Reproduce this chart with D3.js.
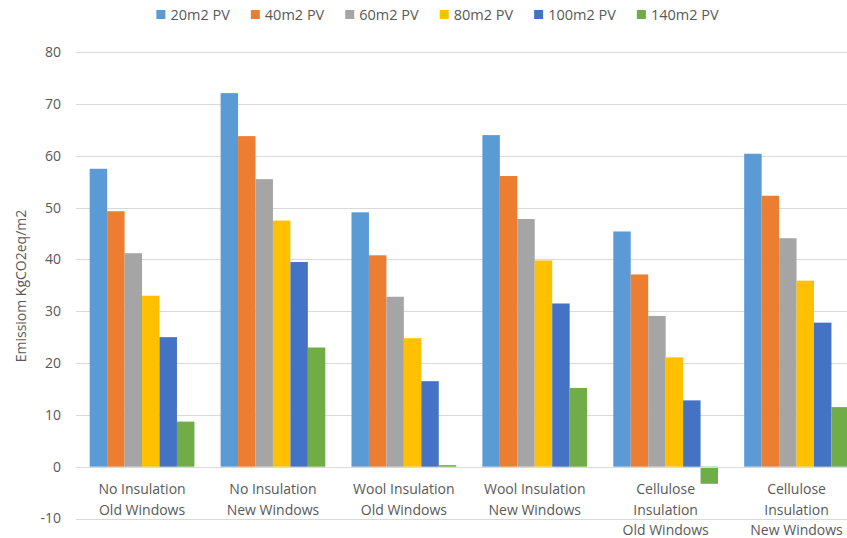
<!DOCTYPE html>
<html>
<head>
<meta charset="utf-8">
<script src="https://cdn.jsdelivr.net/npm/d3@7"></script>
<style>
  html, body { margin: 0; padding: 0; background: #fff; overflow: hidden; }
  svg { display: block; font-family: "Open Sans", sans-serif; }
</style>
</head>
<body>
<svg id="chart" width="847" height="538"></svg>
<script>
// ---- data ----
const categories = ["NI_OW", "NI_NW", "WI_OW", "WI_NW", "CI_OW", "CI_NW"];
const categoryLabels = [
  ["No Insulation", "Old Windows"],
  ["No Insulation", "New Windows"],
  ["Wool Insulation", "Old Windows"],
  ["Wool Insulation", "New Windows"],
  ["Cellulose", "Insulation", "Old Windows"],
  ["Cellulose", "Insulation", "New Windows"]
];
const seriesNames = ["20m2 PV", "40m2 PV", "60m2 PV", "80m2 PV", "100m2 PV", "140m2 PV"];
const pv20  = [57.5, 72.1, 49.1, 64.0, 45.4, 60.4];
const pv40  = [49.3, 63.8, 40.8, 56.1, 37.1, 52.3];
const pv60  = [41.2, 55.5, 32.8, 47.8, 29.1, 44.1];
const pv80  = [33.0, 47.5, 24.8, 39.8, 21.1, 35.9];
const pv100 = [25.0, 39.5, 16.5, 31.5, 12.8, 27.8];
const pv140 = [8.7, 23.0, 0.3, 15.2, -3.3, 11.5];
const yTicks = [-10, 0, 10, 20, 30, 40, 50, 60, 70, 80];
const colors = ["#5B9BD5", "#ED7D31", "#A5A5A5", "#FFC000", "#4472C4", "#70AD47"];
const yTitle = "Emissiom KgCO2eq/m2";

const seriesValues = [pv20, pv40, pv60, pv80, pv100, pv140];

// ---- layout ----
const svg = d3.select("#chart");
const plotLeft = 76.6, plotRight = 862, plotTop = 52.2, plotBottom = 518.5;
const textColor = "#595959";

const x = d3.scaleBand().domain(categories).range([plotLeft, plotRight])
  .paddingInner(0.2).paddingOuter(0.1);
const xs = d3.scaleBand().domain(seriesNames).range([0, x.bandwidth()]).padding(0);
const y = d3.scaleLinear().domain([-10, 80]).range([plotBottom, plotTop]);

// gridlines
svg.append("g").selectAll("line").data(yTicks).join("line")
  .attr("x1", 76).attr("x2", 847)
  .attr("y1", d => Math.round(y(d)) + 0.5).attr("y2", d => Math.round(y(d)) + 0.5)
  .attr("stroke", "#D9D9D9").attr("stroke-width", 1);

// y tick labels via axis
const yAxis = d3.axisLeft(y).tickValues(yTicks).tickSize(0).tickPadding(0)
  .tickFormat(d => String(d));
const yg = svg.append("g").attr("transform", "translate(61,0)").call(yAxis);
yg.select(".domain").remove();
yg.selectAll("text").attr("fill", textColor).attr("font-size", 14)
  .attr("font-family", "'Open Sans', sans-serif");

// y title
svg.append("text")
  .attr("transform", `translate(26,286) rotate(-90)`)
  .attr("text-anchor", "middle").attr("fill", textColor).attr("font-size", 14)
  .text(yTitle);

// bars
const groups = svg.append("g").selectAll("g").data(categories).join("g")
  .attr("transform", d => `translate(${x(d)},0)`);
groups.selectAll("rect")
  .data((c, ci) => seriesNames.map((s, si) => ({ s, si, v: seriesValues[si][ci] })))
  .join("rect")
  .attr("x", d => xs(d.s))
  .attr("width", xs.bandwidth())
  .attr("y", d => Math.min(y(d.v), y(0)))
  .attr("height", d => Math.abs(y(d.v) - y(0)))
  .attr("fill", d => colors[d.si]);

// zero line
svg.append("line").attr("x1", 76).attr("x2", 847)
  .attr("y1", Math.round(y(0)) + 0.5).attr("y2", Math.round(y(0)) + 0.5)
  .attr("stroke", "#D9D9D9").attr("stroke-width", 1);

// category labels
const xAxisG = svg.append("g");
categories.forEach((c, i) => {
  const t = xAxisG.append("text")
    .attr("x", x(c) + x.bandwidth() / 2).attr("y", 494)
    .attr("text-anchor", "middle").attr("fill", textColor).attr("font-size", 14);
  categoryLabels[i].forEach((line, li) => {
    t.append("tspan").attr("x", x(c) + x.bandwidth() / 2).attr("dy", li === 0 ? 0 : 20.7).text(line);
  });
});

// legend
const legend = svg.append("g");
const items = seriesNames.map((s, i) => {
  const g = legend.append("g");
  g.append("rect").attr("width", 9).attr("height", 9).attr("y", 10).attr("fill", colors[i]);
  const t = g.append("text").attr("x", 14).attr("y", 19.5).attr("fill", textColor)
    .attr("font-size", 14.5).text(s);
  return { g, w: 14 + t.node().getComputedTextLength() };
});
const gap = 21;
const total = d3.sum(items, d => d.w) + gap * (items.length - 1);
let cx = 437.5 - total / 2;
items.forEach(it => { it.g.attr("transform", `translate(${cx},0)`); cx += it.w + gap; });
</script>
</body>
</html>
